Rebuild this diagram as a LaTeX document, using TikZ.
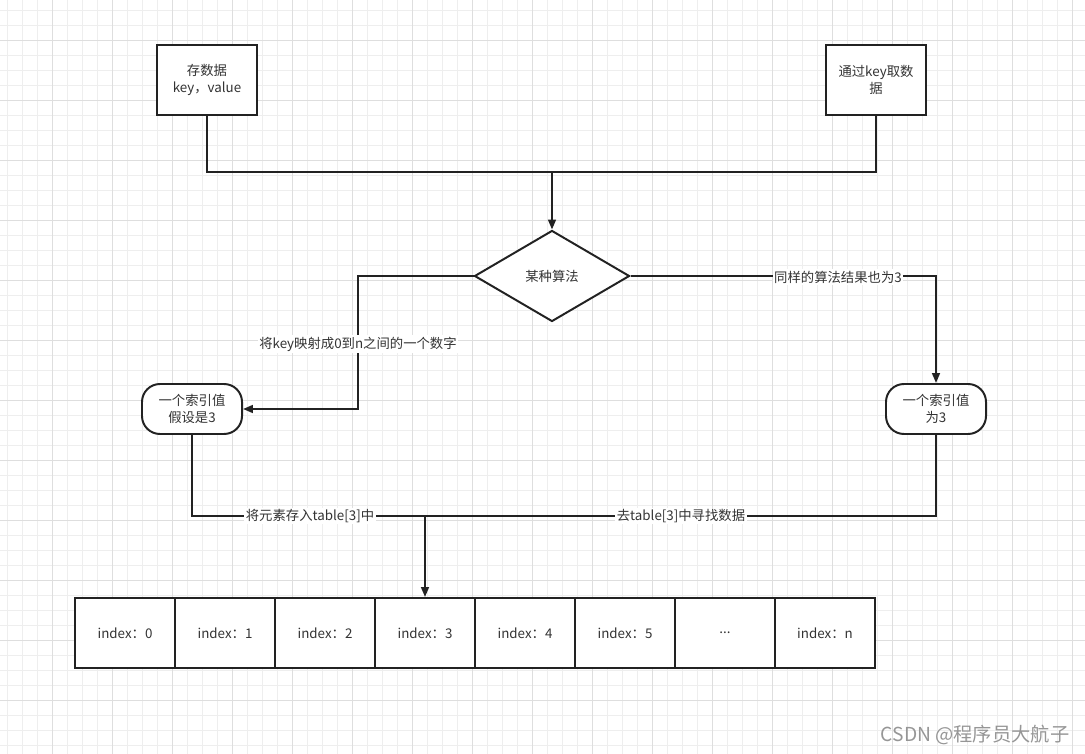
\documentclass[tikz,border=0pt]{standalone}
\usepackage{fontspec}
\setmainfont{Noto Sans CJK SC}
\usetikzlibrary{positioning,arrows.meta,shapes.geometric}
\definecolor{inkgrey}{RGB}{34,34,34}
\definecolor{txtgrey}{RGB}{51,51,51}
\definecolor{gridminor}{RGB}{238,238,238}
\definecolor{gridmajor}{RGB}{222,222,222}
\definecolor{markgrey}{RGB}{150,150,150}

\begin{document}
\begin{tikzpicture}[x=0.025cm,y=-0.025cm,
  box/.style={rectangle,draw=inkgrey,line width=1.4pt,fill=white,
    minimum width=2.5cm,minimum height=1.75cm,align=center,
    text=txtgrey,font=\fontsize{9.5pt}{12pt}\selectfont},
  pill/.style={box,rounded corners=0.45cm,minimum height=1.25cm},
  choice/.style={diamond,draw=inkgrey,line width=1.4pt,fill=white,aspect=1.7,
    minimum width=3.875cm,minimum height=2.275cm,inner sep=0pt,
    text=txtgrey,font=\fontsize{9.5pt}{12pt}\selectfont},
  cell/.style={box,minimum width=2.5cm,minimum height=1.75cm},
  wire/.style={draw=inkgrey,line width=1.4pt},
  arrow/.style={wire,-{Triangle[length=7pt,width=5.5pt]}},
  tag/.style={fill=white,inner sep=1pt,text=txtgrey,
    font=\fontsize{9.5pt}{12pt}\selectfont}]
\useasboundingbox (0,0) rectangle (1085,754);
% Grid paper
\fill[white] (0,0) rectangle (1085,754);
\foreach \gx in {7,22,...,1085} \draw[gridminor,line width=0.6pt] (\gx,0) -- (\gx,754);
\foreach \gy in {10,25,...,754} \draw[gridminor,line width=0.6pt] (0,\gy) -- (1085,\gy);
\foreach \gx in {52,112,...,1085} \draw[gridmajor,line width=0.6pt] (\gx,0) -- (\gx,754);
\foreach \gy in {40,100,...,754} \draw[gridmajor,line width=0.6pt] (0,\gy) -- (1085,\gy);
% Entry boxes
\node[box] (store) at (207,80) {存数据\\key，value};
\node[box] (fetch) at (876,80) {通过key取数\\据};
% Hash step
\node[choice] (algo) at (552,276) {某种算法};
% Index values
\node[pill] (idxa) at (192,409) {一个索引值\\假设是3};
\node[pill] (idxb) at (936,409) {一个索引值\\为3};
% Table cells
\foreach \i/\txt in {0/index：0,1/index：1,2/index：2,3/index：3,
    4/index：4,5/index：5,6/{.{}.{}.},7/index：n}
  \node[cell] (c\i) at (125+100*\i,633) {\txt};
% Wires
\coordinate (merge) at (552,172);
\coordinate (lturn) at (358,344);
\coordinate (split) at (425,516);
\draw[wire] (store.south) |- (merge) -| (fetch.south);
\draw[arrow] (merge) -- (algo.north);
\draw[arrow] (algo.west) -| (lturn) |- (idxa.east);
\draw[arrow] (algo.east) -| (idxb.north);
\draw[wire] (idxa.south) |- (split);
\draw[wire] (idxb.south) |- (split);
\draw[arrow] (split) -- (c3.north);
% Wire labels
\node[tag] (ltag) at (lturn) {将key映射成0到n之间的一个数字};
\node[tag] (rtag) at (838,277) {同样的算法结果也为3};
\node[tag] (stag) at (310,516) {将元素存入table[3]中};
\node[tag] (ftag) at (681,516) {去table[3]中寻找数据};
% Watermark
\node[text=markgrey,font=\fontsize{13.7pt}{16pt}\selectfont] (mark) at (975,735) {CSDN @程序员大航子};
\end{tikzpicture}
\end{document}
